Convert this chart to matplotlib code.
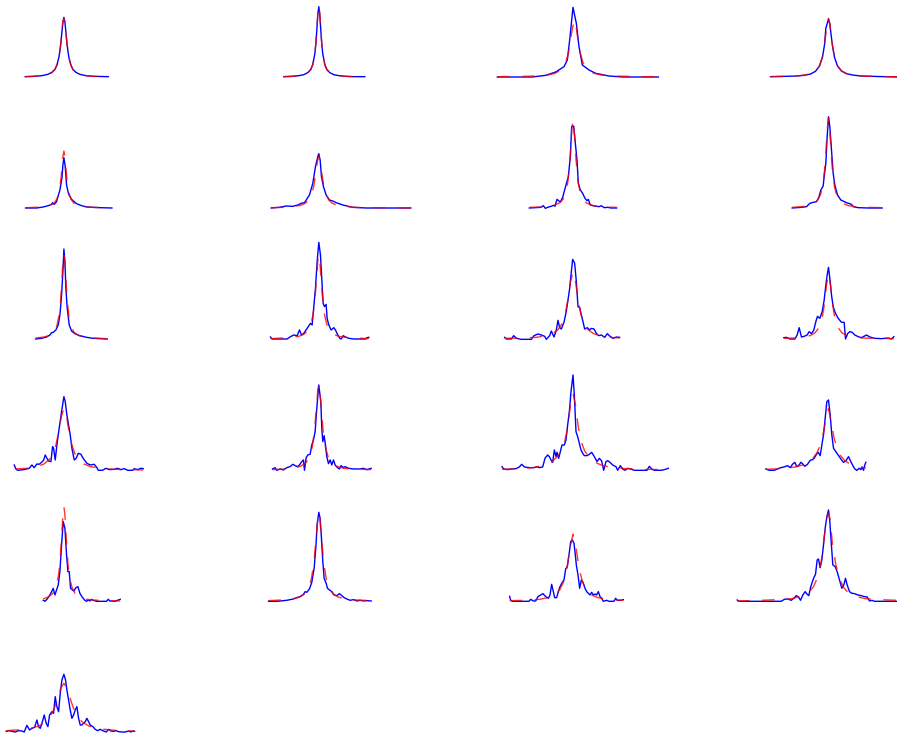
import matplotlib
matplotlib.use("Agg")
import matplotlib.pyplot as plt

# Measured spectra (blue) and Lorentzian fits (red) for each of the 21 lines.
# x = offset from line centre, y = intensity above baseline (arbitrary units)

# line 1
x1 = [-116, -90, -66, -48, -36, -27, -21, -15, -12, -9, -6, -3, 0, 3, 6, 9, 12, 15, 21, 27, 36, 48, 66, 90, 133]
obs1 = [1, 2, 4, 8, 14, 23, 36, 59, 78, 103, 135, 165, 179, 165, 135, 103, 78, 59, 36, 23, 14, 8, 4, 2, 1]
fit1 = [1, 2, 4, 8, 13, 22, 35, 57, 77, 104, 137, 166, 176, 166, 136, 102, 76, 57, 35, 22, 13, 8, 4, 2, 1]

# line 2
x2 = [-105, -80, -60, -45, -33, -24, -18, -12, -9, -6, -3, 0, 3, 6, 9, 12, 18, 24, 33, 45, 60, 80, 105, 138]
obs2 = [1, 2, 4, 7, 13, 23, 38, 69, 98, 140, 187, 211, 187, 140, 98, 69, 38, 23, 13, 7, 4, 2, 1, 1]
fit2 = [1, 2, 4, 7, 13, 22, 37, 70, 100, 143, 190, 216, 190, 142, 99, 69, 37, 22, 13, 7, 4, 2, 1, 1]

# line 3
x3 = [-227, -122, -82, -52, -27, -17, -10, 0, 10, 18, 28, 48, 68, 108, 148, 256]
obs3 = [0, 0, 5, 15, 31, 51, 111, 209, 161, 91, 36, 21, 11, 3, 0, 0]
fx3 = [-227, -150, -105, -75, -54, -36, -24, -15, -9, -3, 4, 9, 15, 21, 30, 42, 60, 84, 120, 165, 210, 256]
fit3 = [1, 2, 3, 6, 11, 21, 38, 66, 98, 140, 171, 154, 111, 75, 43, 23, 12, 6, 3, 2, 1, 1]

# line 4
x4 = [-174, -130, -96, -72, -54, -39, -27, -18, -12, -8, -4, 0, 4, 8, 12, 18, 27, 39, 54, 72, 96, 130, 170, 206]
obs4 = [1, 2, 3, 5, 9, 17, 33, 60, 96, 146, 160, 174, 158, 125, 93, 59, 33, 18, 10, 6, 3, 2, 1, 0]
fit4 = [1, 2, 3, 6, 10, 18, 34, 61, 95, 128, 161, 176, 161, 128, 95, 61, 34, 18, 10, 6, 3, 2, 1, 1]

# line 5
x5 = [-115, -82, -62, -47, -37, -34, -29, -22, -12, -6, -3, 0, 4, 8, 14, 23, 38, 53, 68, 88, 108, 144]
obs5 = [0, 0, 3, 7, 11, 16, 11, 19, 54, 89, 129, 151, 124, 69, 42, 26, 13, 7, 3, 2, 1, 0]
fx5 = [-115, -84, -60, -42, -30, -21, -15, -9, -6, -3, 0, 3, 6, 9, 15, 21, 30, 42, 60, 84, 114, 144]
fit5 = [1, 2, 4, 8, 14, 27, 45, 86, 118, 154, 171, 154, 118, 86, 45, 27, 14, 8, 4, 2, 1, 1]

# line 6
x6 = [-143, -118, -98, -78, -63, -53, -43, -28, -18, -10, -3, 0, 4, 8, 14, 22, 32, 42, 52, 72, 102, 142, 276]
obs6 = [0, 2, 6, 5, 9, 14, 16, 39, 74, 124, 154, 163, 144, 94, 64, 39, 24, 21, 16, 9, 2, 0, 0]
fx6 = [-143, -105, -75, -54, -39, -30, -21, -15, -9, -4, 0, 4, 9, 15, 21, 30, 39, 54, 75, 105, 150, 210, 276]
fit6 = [1, 2, 5, 8, 15, 24, 43, 66, 104, 141, 154, 141, 104, 66, 43, 24, 15, 8, 5, 2, 1, 1, 0]

# line 7
x7 = [-131, -96, -89, -83, -76, -66, -58, -54, -48, -43, -38, -31, -21, -14, -8, -4, 2, 8, 12, 16, 22, 29,
      36, 42, 46, 52, 64, 79, 84, 94, 104, 114, 131]
obs7 = [0, 2, 7, -1, 2, 5, 8, 5, 26, 22, 18, 32, 69, 94, 154, 244, 246, 184, 144, 74, 54, 44,
        29, 22, 26, 9, 6, 4, 7, 1, 2, 0, 0]
fx7 = [-131, -96, -72, -54, -39, -30, -21, -15, -9, -6, -3, 0, 3, 6, 9, 15, 21, 30, 39, 54, 72, 96, 131]
fit7 = [2, 3, 5, 9, 16, 26, 49, 81, 146, 194, 242, 264, 242, 194, 146, 81, 49, 26, 16, 9, 5, 3, 2]

# line 8
x8 = [-109, -81, -66, -56, -46, -36, -29, -23, -16, -13, -8, -4, 0, 4, 9, 14, 19, 27, 37, 54, 69, 74, 89, 119, 161]
obs8 = [0, 2, 4, 14, 17, 19, 32, 54, 66, 94, 134, 214, 274, 244, 174, 104, 69, 39, 24, 16, 11, 4, 1, 0, 0]
fx8 = [-109, -80, -60, -45, -33, -24, -18, -12, -8, -4, 0, 4, 8, 12, 18, 24, 33, 45, 60, 80, 110, 161]
fit8 = [2, 4, 7, 13, 23, 40, 64, 111, 165, 233, 270, 233, 165, 111, 64, 40, 23, 13, 7, 4, 2, 1]

# line 9
x9 = [-85, -67, -52, -42, -37, -32, -24, -17, -12, -7, -3, 0, 3, 6, 10, 16, 23, 33, 48, 68, 88, 108, 130]
obs9 = [0, 2, 6, 12, 19, 20, 27, 42, 72, 132, 202, 270, 232, 152, 92, 42, 24, 16, 10, 5, 2, 1, 0]
fx9 = [-85, -60, -42, -30, -21, -15, -10, -6, -3, 0, 3, 6, 10, 15, 21, 30, 42, 60, 85, 110, 130]
fit9 = [3, 6, 11, 21, 40, 68, 114, 177, 230, 255, 230, 177, 114, 68, 40, 21, 11, 6, 3, 2, 1]

# line 10
x10 = [-145, -140, -95, -85, -75, -65, -58, -52, -45, -35, -25, -20, -15, -10, -5, 0, 5, 10, 13, 17, 22, 25,
       30, 37, 45, 50, 57, 63, 67, 73, 80, 90, 105, 140, 145, 150]
obs10 = [6, 0, 0, 7, 12, 10, 27, 12, 17, 32, 47, 42, 97, 152, 232, 290, 252, 162, 107, 97, 104, 62,
         42, 27, 34, 27, 12, 2, 0, 10, 6, 2, 0, 0, 4, 5]
fx10 = [-145, -110, -80, -60, -45, -33, -24, -17, -11, -6, -3, 0, 3, 6, 11, 17, 24, 33, 45, 60, 80, 110, 150]
fit10 = [1, 3, 5, 8, 14, 25, 44, 74, 126, 194, 235, 252, 235, 194, 126, 74, 44, 25, 14, 8, 5, 3, 1]

# line 11
x11 = [-205, -200, -185, -178, -170, -155, -125, -117, -105, -95, -85, -80, -70, -65, -57, -50, -45, -40,
       -35, -27, -20, -15, -10, -5, -1, 5, 10, 15, 20, 25, 30, 35, 43, 50, 55, 63, 70, 77, 85, 95, 103,
       110, 120, 130, 140]
obs11 = [5, 0, 0, 10, 2, -1, -1, 10, 15, 12, 8, -1, 10, 24, 6, 27, 56, 34,
         30, 50, 84, 117, 152, 202, 239, 227, 172, 97, 94, 72, 52, 30, 34, 27, 32, 30, 17, 10, 12, 5, 16,
         9, 2, 6, 5]
fx11 = [-205, -150, -110, -80, -60, -45, -33, -24, -15, -8, 0, 8, 15, 24, 33, 45, 60, 80, 110, 140]
fit11 = [2, 3, 5, 10, 17, 28, 46, 73, 119, 169, 202, 169, 119, 73, 46, 28, 17, 10, 5, 3]

# line 12
x12 = [-134, -126, -116, -101, -94, -88, -81, -73, -64, -58, -51, -44, -38, -33, -26, -19, -13, -8, -4, 0,
       4, 9, 14, 21, 29, 39, 47, 51, 57, 64, 71, 79, 89, 99, 114, 124, 139, 159, 179, 189, 196]
obs12 = [4, 5, 0, 0, 12, 34, 6, 8, 12, 22, 16, 27, 52, 68, 62, 82, 117, 162, 192, 215,
         182, 132, 97, 77, 62, 50, 50, 0, 16, 22, 20, 12, 7, 4, 12, 6, 2, 1, 3, 0, 7]
fx12 = [-134, -100, -75, -55, -40, -28, -19, -12, -6, 0, 6, 12, 19, 28, 40, 55, 75, 100, 140, 196]
fit12 = [2, 3, 6, 10, 19, 35, 63, 106, 162, 197, 162, 106, 63, 35, 19, 10, 6, 3, 2, 1]

# line 13
x13 = [-149, -144, -139, -119, -104, -96, -89, -81, -74, -67, -61, -56, -51, -46, -39, -34, -31, -26, -21,
       -17, -12, -7, 0, 4, 9, 14, 19, 24, 31, 37, 43, 51, 59, 69, 79, 91, 99, 103, 116, 126, 136, 151, 161,
       171, 181, 191, 206, 211, 221, 231, 238]
obs13 = [16, 4, 0, 2, 6, 16, 8, 19, 18, 24, 30, 46, 36, 28, 26, 71, 66, 31, 76,
         106, 141, 176, 221, 206, 166, 136, 106, 66, 31, 36, 51, 48, 34, 21, 16, 18, 8, 0, 0, 6, 2, 3, 6,
         2, 5, 0, 0, 5, 2, 6, 5]
fx13 = [-145, -110, -80, -60, -45, -33, -24, -16, -8, 0, 8, 16, 24, 33, 45, 60, 80, 110, 150, 190, 238]
fit13 = [4, 6, 11, 19, 31, 50, 76, 113, 160, 186, 160, 113, 76, 50, 31, 19, 11, 6, 3, 2, 1]

# line 14
x14 = [-139, -131, -126, -116, -106, -96, -86, -78, -71, -64, -58, -51, -46, -43, -38, -33, -26, -21, -16,
       -11, -6, 0, 6, 9, 12, 16, 20, 24, 29, 34, 39, 44, 49, 56, 62, 67, 74, 79, 89, 104, 124, 134, 144, 157]
obs14 = [4, 8, 0, 4, 1, 8, 11, 18, 14, 11, 16, 26, 31, 0, 38, 46, 48, 76, 91,
         116, 186, 256, 206, 126, 86, 104, 76, 41, 20, 31, 16, 31, 16, 8, 4, 14, 8, 11, 6, 4, 4, 6, 2, 6]
fx14 = [-139, -100, -75, -55, -40, -29, -20, -13, -7, -3, 0, 3, 7, 13, 20, 29, 40, 55, 75, 100, 157]
fit14 = [2, 4, 6, 12, 21, 37, 68, 118, 191, 241, 256, 241, 191, 118, 68, 37, 21, 12, 6, 4, 2]

# line 15
x15 = [-213, -208, -196, -186, -171, -161, -154, -146, -131, -116, -108, -101, -91, -84, -76, -71, -66, -61,
       -56, -51, -48, -43, -38, -33, -26, -21, -16, -11, -6, 0, 4, 9, 14, 19, 24, 29, 34, 42, 49, 56, 64,
       72, 79, 86, 92, 99, 104, 111, 119, 129, 134, 142, 149, 156, 164, 172, 184, 222, 229, 236, 244, 264,
       274, 286]
obs15 = [11, 4, 2, 4, 5, 10, 18, 10, 8, 8, 11, 8, 10, 36, 46, 41, 31, 24,
         61, 41, 54, 36, 56, 76, 76, 91, 136, 176, 236, 286, 226, 116, 101, 81, 61, 51, 44, 44, 48, 54, 41,
         26, 36, 28, 0, 26, 29, 24, 16, 11, 0, 14, 4, 0, 6, 4, 0, 0, 12, 4, 0, 0,
         2, 6]
fx15 = [-213, -160, -120, -90, -65, -48, -35, -25, -16, -8, 0, 8, 16, 25, 35, 48, 65, 90, 120, 160, 210, 286]
fit15 = [3, 5, 8, 14, 24, 40, 58, 85, 129, 193, 231, 193, 129, 85, 58, 40, 24, 14, 8, 5, 3, 2]

# line 16
x16 = [-188, -178, -163, -153, -143, -133, -123, -115, -108, -101, -95, -88, -83, -78, -71, -63, -55, -48,
       -43, -36, -31, -25, -20, -15, -10, -5, 0, 5, 10, 15, 22, 29, 37, 45, 52, 60, 67, 72, 79, 85, 92, 97,
       101, 105, 109, 112]
obs16 = [4, 0, 0, 4, 8, 10, 14, 8, 18, 24, 11, 16, 24, 20, 12, 18, 30, 32,
         36, 48, 54, 44, 76, 106, 156, 206, 211, 166, 106, 66, 56, 46, 34, 24, 28, 41, 26, 16, 4, 0, 6, 2,
         10, 0, 16, 24]
fx16 = [-188, -140, -100, -70, -50, -35, -25, -16, -8, 0, 8, 16, 25, 35, 50, 70, 90, 112]
fit16 = [3, 5, 10, 18, 32, 52, 75, 110, 150, 185, 145, 100, 68, 45, 28, 16, 10, 7]

# line 17
x17 = [-62, -57, -50, -42, -37, -32, -27, -22, -17, -12, -7, -2, 3, 8, 12, 16, 20, 26, 30, 36, 42, 48, 56,
       63, 68, 73, 78, 83, 88, 98, 128, 133, 138, 153, 169]
obs17 = [3, 0, 7, 19, 29, 39, 19, 34, 49, 89, 169, 239, 219, 139, 89, 89, 39, 34, 31, 41, 44, 24, 11,
         3, 0, 4, 1, 6, 3, 0, 0, 6, 1, 0, 6]
fx17 = [-62, -45, -33, -24, -17, -12, -7, -3, 0, 3, 7, 12, 17, 24, 33, 45, 62, 85, 120, 169]
fit17 = [7, 14, 24, 42, 73, 113, 190, 260, 284, 260, 190, 113, 73, 42, 24, 14, 7, 4, 2, 1]

# line 18
x18 = [-151, -126, -106, -96, -86, -76, -66, -56, -46, -41, -36, -28, -21, -14, -9, -5, 0, 4, 8, 12, 16,
       22, 26, 32, 39, 46, 54, 62, 69, 76, 84, 94, 104, 114, 124, 134, 144, 157]
obs18 = [0, 0, 2, 3, 5, 7, 11, 14, 21, 29, 27, 37, 57, 99, 159, 229, 267, 249, 189, 119, 69,
         54, 39, 34, 29, 19, 17, 23, 17, 11, 7, 3, 5, 1, 3, 1, 2, 1]
fx18 = [-151, -110, -80, -60, -44, -32, -23, -15, -8, -3, 0, 3, 8, 15, 23, 32, 44, 60, 80, 110, 157]
fit18 = [2, 4, 7, 12, 21, 37, 64, 113, 191, 251, 264, 251, 191, 113, 64, 37, 21, 12, 7, 4, 2]

# line 19
x19 = [-190, -187, -182, -132, -127, -119, -112, -105, -97, -90, -85, -80, -74, -69, -64, -59, -55, -49,
       -44, -39, -32, -27, -22, -17, -12, -7, -2, 3, 7, 10, 15, 20, 25, 30, 36, 41, 46, 51, 56, 61, 66,
       71, 76, 81, 86, 91, 101, 108, 123, 128, 133, 143, 151]
obs19 = [15, 3, 0, 0, 6, 1, 1, 14, 19, 23, 17, 13, 9, 19, 51, 29, 11, 11,
         29, 44, 57, 64, 97, 104, 139, 179, 184, 174, 139, 109, 79, 39, 64, 57, 39, 29, 24, 19, 27, 19, 22,
         19, 29, 14, 9, 0, 3, 0, 0, 9, 3, 3, 5]
fx19 = [-190, -140, -100, -75, -55, -40, -28, -18, -9, 0, 9, 18, 28, 40, 55, 75, 100, 130, 151]
fit19 = [2, 3, 6, 11, 19, 34, 59, 101, 161, 201, 161, 101, 59, 34, 19, 11, 6, 4, 3]

# line 20
x20 = [-274, -269, -142, -132, -122, -112, -104, -97, -90, -84, -77, -70, -64, -59, -54, -49, -44, -39,
       -34, -30, -25, -20, -15, -10, -5, 0, 4, 8, 13, 20, 26, 33, 40, 46, 51, 56, 63, 70, 78, 88, 98,
       108, 116, 123, 130, 138, 205]
obs20 = [4, 0, 0, 6, 7, 3, 9, 17, 13, 3, 19, 29, 21, 17, 41, 57, 71, 81,
         124, 127, 101, 124, 169, 219, 254, 274, 239, 179, 109, 104, 89, 64, 39, 49, 69, 49, 29, 24, 23,
         19, 17, 14, 13, 1, 3, 0, 0]
fx20 = [-274, -200, -150, -110, -80, -60, -45, -33, -22, -12, -5, 0, 5, 12, 22, 33, 45, 60, 80, 110, 150, 205]
fit20 = [1, 3, 5, 8, 16, 26, 44, 71, 119, 200, 250, 264, 245, 170, 110, 68, 42, 25, 15, 8, 5, 3]

# line 21
x21 = [-173, -163, -156, -146, -136, -126, -119, -111, -103, -96, -88, -81, -76, -71, -66, -59, -53, -48,
       -43, -36, -31, -26, -21, -16, -11, -6, 0, 5, 9, 14, 19, 24, 29, 34, 39, 44, 49, 54, 59, 64, 69,
       74, 79, 87, 94, 101, 109, 119, 127, 134, 141, 149, 157, 164, 174, 184, 194, 201, 206, 212]
obs21 = [2, 4, 2, 0, 4, 3, 0, 20, 6, 11, 14, 36, 16, 11, 26, 51, 26, 16,
         51, 61, 56, 106, 76, 61, 116, 156, 173, 156, 126, 96, 66, 41, 51, 66, 76, 41, 21, 21, 26, 31, 41,
         31, 21, 16, 8, 4, 8, 3, 0, 8, 3, 2, 4, 1, 0, 0, 3, 0, 3, 2]
fx21 = [-173, -130, -100, -75, -55, -40, -28, -18, -9, 0, 9, 18, 28, 40, 55, 75, 100, 130, 170, 212]
fit21 = [4, 7, 11, 18, 30, 48, 73, 103, 132, 146, 132, 103, 73, 48, 30, 18, 11, 7, 4, 3]

spectra = [
    (x1, obs1, x1, fit1), (x2, obs2, x2, fit2), (x3, obs3, fx3, fit3), (x4, obs4, x4, fit4),
    (x5, obs5, fx5, fit5), (x6, obs6, fx6, fit6), (x7, obs7, fx7, fit7), (x8, obs8, fx8, fit8),
    (x9, obs9, fx9, fit9), (x10, obs10, fx10, fit10), (x11, obs11, fx11, fit11), (x12, obs12, fx12, fit12),
    (x13, obs13, fx13, fit13), (x14, obs14, fx14, fit14), (x15, obs15, fx15, fit15), (x16, obs16, fx16, fit16),
    (x17, obs17, fx17, fit17), (x18, obs18, fx18, fit18), (x19, obs19, fx19, fit19), (x20, obs20, fx20, fit20),
    (x21, obs21, fx21, fit21),
]

# layout (pixels): column centres and row baselines of the original figure
W, H = 897, 738
col_centre = [63.9, 318.8, 573.0, 828.5]
row_base = [77, 208, 339, 470.3, 601.3, 732]
ax_w, ax_h = 200, 105

fig = plt.figure(figsize=(W / 100, H / 100), dpi=100)
for i, (xo, yo, xf, yf) in enumerate(spectra):
    r, c = divmod(i, 4)
    rect = [(col_centre[c] - ax_w / 2) / W, (H - row_base[r] - 5) / H, ax_w / W, ax_h / H]
    ax = fig.add_axes(rect)
    ax.plot(xo, yo, color='blue', lw=1.0, clip_on=False)
    ax.plot(xf, yf, color='red', lw=1.0, linestyle=(0, (9, 9)), alpha=0.8, clip_on=False)
    ax.set_xlim(-300, 300)
    ax.set_ylim(-15, 300)
    ax.axis('off')

fig.savefig('out.png', dpi=100)
